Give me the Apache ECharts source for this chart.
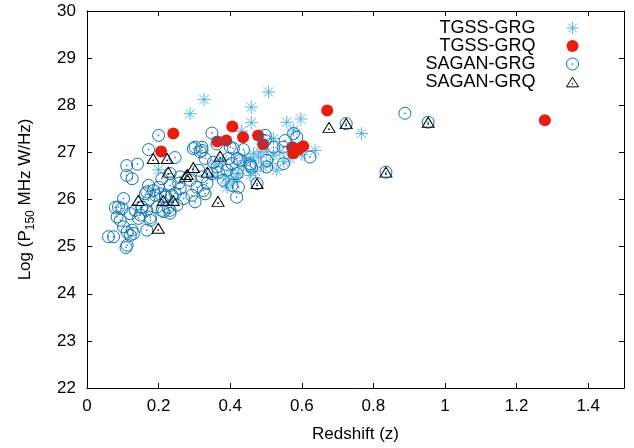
<!DOCTYPE html>
<html><head><meta charset="utf-8">
<script src="https://cdn.jsdelivr.net/npm/echarts@6/dist/echarts.min.js"></script>
<style>html,body{margin:0;padding:0;background:#fff}#c{width:634px;height:448px}</style>
</head><body><div id="c"></div>
<script>
// ---- data ----
const seriesNames = ['TGSS-GRG', 'TGSS-GRQ', 'SAGAN-GRG', 'SAGAN-GRQ'];
const xTicks = [0, 0.2, 0.4, 0.6, 0.8, 1, 1.2, 1.4];
const yTicks = [22, 23, 24, 25, 26, 27, 28, 29, 30];

const tgssGrg = [
  [0.200,26.63],[0.288,27.82],[0.327,28.12],[0.507,28.28],[0.459,27.96],[0.459,27.63],
  [0.432,27.45],[0.521,27.29],[0.558,27.64],[0.597,27.71],[0.577,27.47],[0.637,27.04],
  [0.567,26.87],[0.586,27.01],[0.539,27.01],[0.484,27.01],[0.502,27.01],[0.521,26.94],
  [0.479,26.90],[0.456,26.83],[0.465,26.97],[0.437,26.72],[0.493,26.69],[0.512,26.76],
  [0.530,26.62],[0.400,26.62],[0.423,26.55],[0.456,26.51],[0.386,26.44],[0.409,26.37],
  [0.391,26.26],[0.419,26.47],[0.767,27.40],[0.360,26.75],[0.380,26.85],[0.470,26.60],
  [0.550,26.80],[0.440,26.90],[0.350,26.50],[0.600,26.95]
];
const tgssGrq = [
  [0.241,27.40],[0.207,27.02],[0.406,27.55],[0.364,27.23],[0.389,27.25],[0.436,27.32],
  [0.478,27.36],[0.492,27.17],[0.671,27.89],[0.576,26.98],[0.590,27.06],[0.604,27.13],
  [0.573,27.11],[1.279,27.68]
];
const saganGrg = [
  [0.200,27.36],[0.172,27.06],[0.246,26.89],[0.111,26.72],[0.141,26.75],[0.111,26.51],
  [0.126,26.44],[0.297,27.08],[0.321,27.04],[0.349,27.41],[0.363,27.18],[0.400,27.11],
  [0.437,27.06],[0.498,27.36],[0.172,26.30],[0.167,26.16],[0.200,26.26],[0.205,26.12],
  [0.260,26.48],[0.260,26.23],[0.232,26.30],[0.312,26.62],[0.288,26.41],[0.307,26.26],
  [0.325,26.19],[0.330,26.12],[0.363,26.69],[0.391,26.62],[0.405,26.76],[0.419,26.55],
  [0.395,26.87],[0.428,26.83],[0.456,26.76],[0.460,26.68],[0.418,26.05],[0.102,26.02],
  [0.088,25.84],[0.098,25.81],[0.084,25.63],[0.093,25.56],[0.102,25.42],[0.112,25.31],
  [0.126,25.35],[0.121,25.24],[0.130,25.28],[0.074,25.21],[0.060,25.21],[0.112,25.03],
  [0.121,25.70],[0.149,25.67],[0.167,25.77],[0.177,25.56],[0.167,25.35],[0.153,25.84],
  [0.172,25.98],[0.163,26.12],[0.186,26.19],[0.195,25.84],[0.214,25.74],[0.232,25.77],
  [0.251,25.88],[0.270,26.02],[0.293,26.09],[0.302,25.95],[0.237,26.09],[0.219,26.09],
  [0.209,26.44],[0.232,26.55],[0.256,26.34],[0.321,26.48],[0.335,26.34],[0.349,26.55],
  [0.367,26.58],[0.330,26.87],[0.316,27.01],[0.321,27.11],[0.353,26.79],[0.381,26.41],
  [0.405,26.30],[0.423,26.26],[0.502,26.83],[0.521,27.11],[0.498,27.25],[0.502,26.69],
  [0.553,27.25],[0.577,27.40],[0.586,27.32],[0.548,27.11],[0.623,26.90],[0.549,26.76],
  [0.456,26.72],[0.419,26.87],[0.302,27.11],[0.409,27.08],[0.079,25.83],[0.135,25.77],
  [0.154,25.83],[0.144,25.60],[0.177,25.62],[0.227,25.83],[0.210,25.77],[0.232,25.71],
  [0.246,26.13],[0.191,26.09],[0.219,26.05],[0.109,24.98],[0.475,26.34],[0.724,27.61],
  [0.953,27.64],[0.835,26.58],[0.888,27.83]
];
const saganGrq = [
  [0.185,26.87],[0.224,26.87],[0.227,26.58],[0.280,26.53],[0.275,26.49],[0.297,26.68],
  [0.336,26.58],[0.372,26.92],[0.475,26.34],[0.143,25.98],[0.213,25.98],[0.241,25.98],
  [0.366,25.96],[0.199,25.39],[0.676,27.53],[0.724,27.61],[0.953,27.64],[0.835,26.58]
];

// ---- chart ----
const FONT = 'Liberation Sans';
const starPath = 'path://M0,-6L0,6M-6,0L6,0M-4.3,-4.3L4.3,4.3M-4.3,4.3L4.3,-4.3';
const ringDotPath = 'path://M6,0A6,6,0,1,1,-6,0A6,6,0,1,1,6,0ZM0.45,0A0.45,0.45,0,1,1,-0.45,0A0.45,0.45,0,1,1,0.45,0Z';
const triPath = 'path://M0,-5.5L6.5,5L-6.5,5ZM0.4,1.6A0.4,0.4,0,1,1,-0.4,1.6A0.4,0.4,0,1,1,0.4,1.6Z';

const chart = echarts.init(document.getElementById('c'), null, {renderer: 'canvas'});
const axisCommon = {
  axisLine: {show: true, onZero: false, lineStyle: {color: '#000', width: 1}},
  axisTick: {show: true, inside: true, length: 5, lineStyle: {color: '#000'}},
  splitLine: {show: false}
};
chart.setOption({
  animation: false,
  backgroundColor: '#fff',
  textStyle: {fontFamily: FONT},
  grid: {left: 87, right: 10, top: 11, bottom: 60},
  legend: {
    orient: 'vertical', right: 50, top: 14, align: 'right',
    itemWidth: 12, itemHeight: 12, itemGap: 0,
    itemStyle: {borderWidth: 1},
    data: seriesNames,
    textStyle: {fontFamily: FONT, fontSize: 18, color: '#000', lineHeight: 18, padding: [0, 26, 0, 0]}
  },
  xAxis: [
    Object.assign({}, axisCommon, {
      type: 'value', min: xTicks[0], max: 1.5, interval: 0.2, position: 'bottom',
      name: 'Redshift (z)', nameLocation: 'middle', nameGap: 38,
      nameTextStyle: {fontFamily: FONT, fontSize: 17, color: '#000'},
      axisLabel: {show: true, margin: 10, fontFamily: FONT, fontSize: 17, color: '#000', showMaxLabel: false,
        formatter: v => xTicks.indexOf(Math.round(v * 10) / 10) >= 0 ? String(Math.round(v * 10) / 10) : ''}
    }),
    Object.assign({}, axisCommon, {
      type: 'value', min: xTicks[0], max: 1.5, interval: 0.2, position: 'top',
      axisLabel: {show: false}
    })
  ],
  yAxis: [
    Object.assign({}, axisCommon, {
      type: 'value', min: yTicks[0], max: yTicks[yTicks.length - 1], interval: 1, position: 'left',
      name: '{a|Log (P}{s|150}{a| MHz W/Hz)}', nameLocation: 'middle', nameGap: 50,
      nameTextStyle: {rich: {
        a: {fontFamily: FONT, fontSize: 17, color: '#000', lineHeight: 24},
        s: {fontFamily: FONT, fontSize: 12, color: '#000', lineHeight: 12, verticalAlign: 'bottom'}
      }},
      axisLabel: {show: true, margin: 11, fontFamily: FONT, fontSize: 17, color: '#000'}
    }),
    Object.assign({}, axisCommon, {
      type: 'value', min: yTicks[0], max: yTicks[yTicks.length - 1], interval: 1, position: 'right',
      axisLabel: {show: false}
    })
  ],
  series: [
    {name: seriesNames[0], type: 'scatter', data: tgssGrg, symbol: starPath, symbolSize: 13,
     itemStyle: {color: 'rgba(0,0,0,0)', borderColor: '#56b4e9', borderWidth: 1, opacity: 1}},
    {name: seriesNames[1], type: 'scatter', data: tgssGrq, symbol: 'circle', symbolSize: 12,
     itemStyle: {color: '#e51e10', opacity: 1}},
    {name: seriesNames[2], type: 'scatter', data: saganGrg, symbol: ringDotPath, symbolSize: 12,
     itemStyle: {color: 'rgba(0,0,0,0)', borderColor: '#0a72b4', borderWidth: 1, opacity: 1}},
    {name: seriesNames[3], type: 'scatter', data: saganGrq, symbol: triPath, symbolSize: [12, 10],
     itemStyle: {color: 'rgba(0,0,0,0)', borderColor: '#000', borderWidth: 1, opacity: 1}}
  ]
});
</script></body></html>
